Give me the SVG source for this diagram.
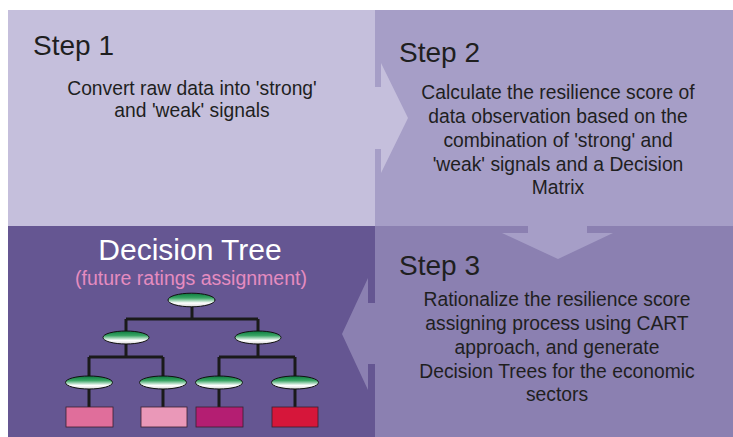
<svg xmlns="http://www.w3.org/2000/svg" width="733" height="437" viewBox="0 0 733 437">
<defs>
<linearGradient id="leafGrad" x1="0" y1="0" x2="0" y2="1">
<stop offset="0" stop-color="#0b7a3e"/>
<stop offset="0.35" stop-color="#3aa565"/>
<stop offset="0.72" stop-color="#ffffff"/>
<stop offset="1" stop-color="#d8d8d8"/>
</linearGradient>
<style>
.head{font-family:"Liberation Sans",Arial,sans-serif;font-size:28px;fill:#1f1f1f}
.body{font-family:"Liberation Sans",Arial,sans-serif;font-size:19.3px;fill:#1f1f1f;text-anchor:middle}
.node{fill:url(#leafGrad);stroke:#111;stroke-width:1}
.line{fill:none;stroke:#1a1a1a;stroke-width:3}
.leaf{stroke:#3a2030;stroke-width:0.8}
</style>
</defs>
<rect x="0" y="0" width="733" height="437" fill="#ffffff"/>
<g id="step1">
<rect x="8" y="10" width="367" height="216" fill="#c5bfdc"/>
<text class="head" x="33" y="55">Step 1</text>
<text class="body"><tspan x="192" y="95">Convert raw data into 'strong'</tspan><tspan x="192" y="117">and 'weak' signals</tspan></text>
</g>
<g id="step2">
<rect x="375" y="10" width="358" height="216" fill="#a69ec7"/>
<text class="head" x="399" y="62">Step 2</text>
<text class="body"><tspan x="558" y="99">Calculate the resilience score of</tspan><tspan x="558" y="123">data observation based on the</tspan><tspan x="558" y="147">combination of 'strong' and</tspan><tspan x="558" y="171">'weak' signals and a Decision</tspan><tspan x="558" y="194">Matrix</tspan></text>
</g>
<g id="decision-tree">
<rect x="8" y="226" width="367" height="211" fill="#655692"/>
<text x="190" y="260" font-family="'Liberation Sans',Arial,sans-serif" font-size="30" fill="#ffffff" text-anchor="middle">Decision Tree</text>
<text x="191" y="285" font-family="'Liberation Sans',Arial,sans-serif" font-size="19.5" fill="#e58cc0" text-anchor="middle">(future ratings assignment)</text>
<path class="line" d="M192 306V319M126 319H258M126 319V331M258 319V331M126 343V357M89 357H163M89 357V376M163 357V376M258 343V357M219 357H295M219 357V376M295 357V376M89 388V407M163 388V407M219 388V407M295 388V407"/>
<ellipse class="node" cx="191.5" cy="300" rx="23.5" ry="6.8"/>
<ellipse class="node" cx="126" cy="337.5" rx="23" ry="6.5"/>
<ellipse class="node" cx="258" cy="337.5" rx="23" ry="6.5"/>
<ellipse class="node" cx="89" cy="382.5" rx="23.5" ry="6.5"/>
<ellipse class="node" cx="163" cy="382.5" rx="23.5" ry="6.5"/>
<ellipse class="node" cx="219" cy="382.5" rx="23.5" ry="6.5"/>
<ellipse class="node" cx="295" cy="382.5" rx="23.5" ry="6.5"/>
<rect class="leaf" x="66" y="407" width="47" height="20" fill="#e06e9b"/>
<rect class="leaf" x="141" y="407" width="46" height="20" fill="#ea98b8"/>
<rect class="leaf" x="196" y="407" width="47" height="20" fill="#b41e72"/>
<rect class="leaf" x="272" y="407" width="46" height="20" fill="#d6163a"/>
</g>
<g id="step3">
<rect x="375" y="226" width="358" height="211" fill="#8b80b1"/>
<text class="head" x="399" y="275">Step 3</text>
<text class="body"><tspan x="557" y="306">Rationalize the resilience score</tspan><tspan x="557" y="330">assigning process using CART</tspan><tspan x="557" y="354">approach, and generate</tspan><tspan x="557" y="378">Decision Trees for the economic</tspan><tspan x="557" y="401">sectors</tspan></text>
</g>
<g id="connectors">
<path d="M374 87H381V63L408 118L381 173V149H374Z" fill="#c5bfdc"/>
<path d="M528 225V233H502L558 259L613 233H587V225Z" fill="#a69ec7"/>
<path d="M376 303H368V278L342 334L368 390V364H376Z" fill="#8b80b1"/>
</g>
</svg>
